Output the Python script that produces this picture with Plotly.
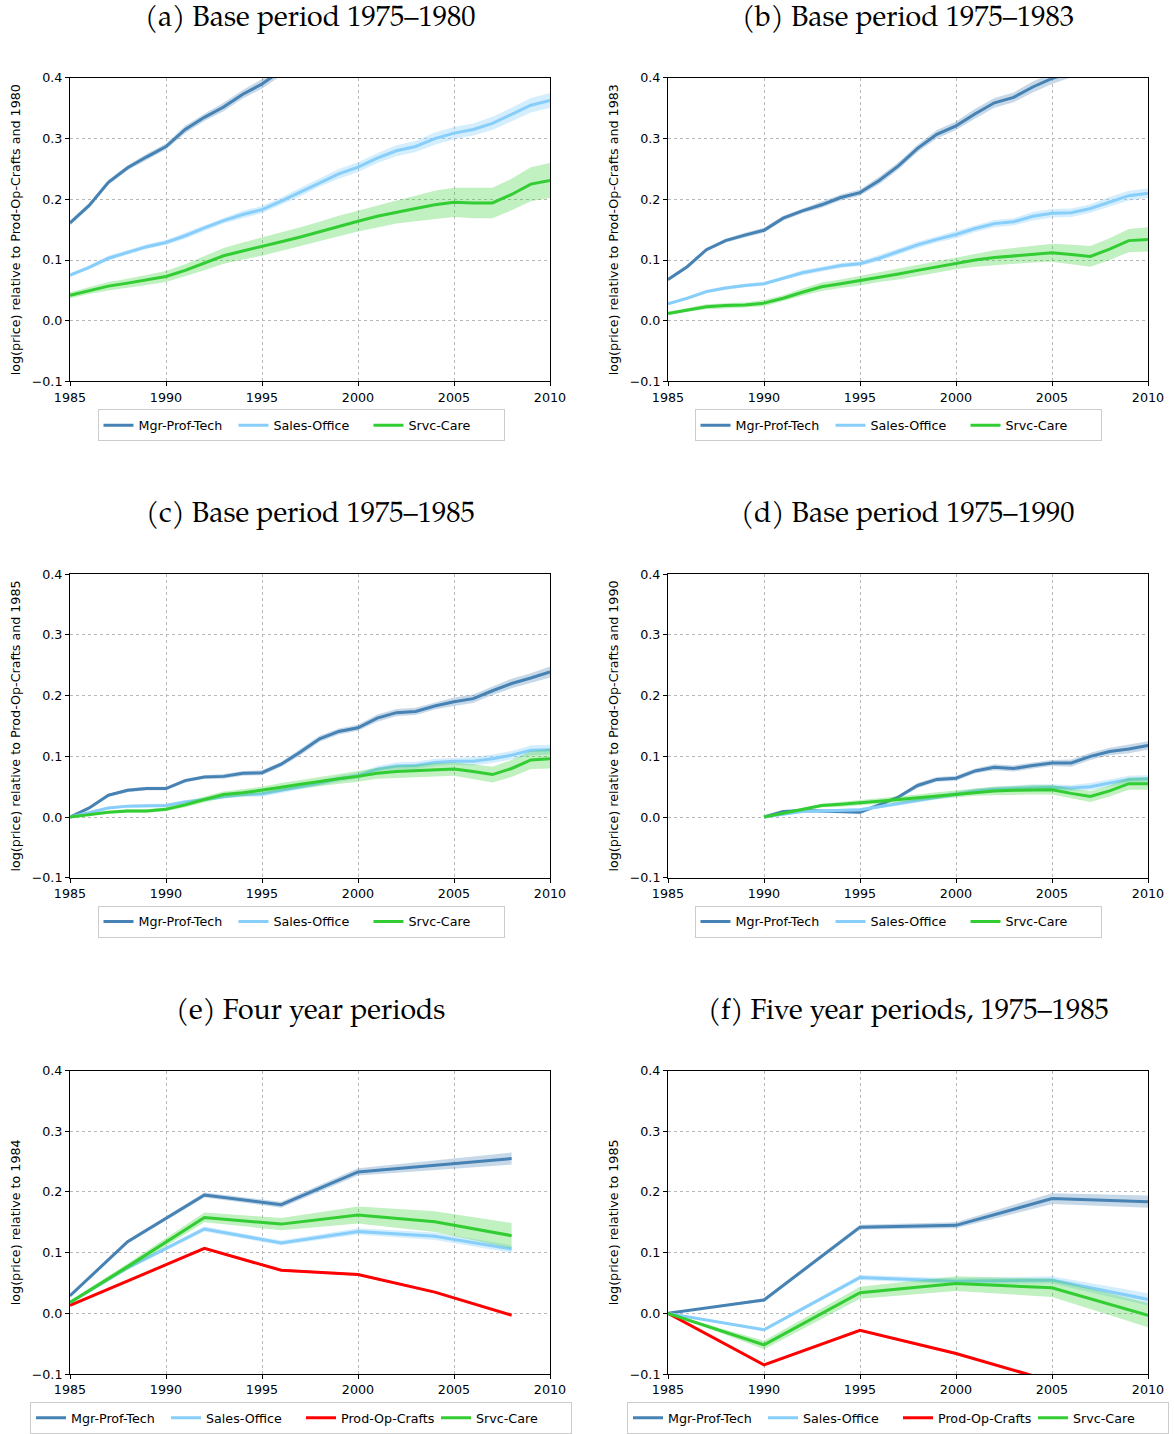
import plotly.graph_objects as go

# ---------------- data ----------------
years_annual = list(range(1985, 2011))
years_d = list(range(1990, 2011))
years_e = [1985, 1988, 1992, 1996, 2000, 2004, 2008]
years_f = [1985, 1990, 1995, 2000, 2005, 2010]

# (a) base period 1975-1980
a_mgr_years = list(range(1985, 1997))
a_mgr = [0.161, 0.190, 0.228, 0.252, 0.270, 0.287, 0.315, 0.335, 0.352, 0.373, 0.390, 0.412]
a_mgr_se = [0.004, 0.004, 0.004, 0.004, 0.005, 0.005, 0.006, 0.006, 0.007, 0.007, 0.008, 0.008]
a_sales = [0.075, 0.088, 0.103, 0.113, 0.122, 0.129, 0.140, 0.153, 0.165, 0.175, 0.183, 0.197, 0.212,
           0.228, 0.242, 0.253, 0.268, 0.280, 0.287, 0.300, 0.309, 0.315, 0.325, 0.340, 0.355, 0.363]
a_sales_se = [0.003, 0.003, 0.004, 0.004, 0.004, 0.004, 0.005, 0.005, 0.005, 0.006, 0.006, 0.006, 0.007,
              0.007, 0.008, 0.008, 0.008, 0.009, 0.009, 0.010, 0.010, 0.010, 0.011, 0.011, 0.012, 0.012]
a_srvc = [0.042, 0.050, 0.057, 0.062, 0.067, 0.073, 0.083, 0.095, 0.107, 0.115, 0.122, 0.130, 0.138,
          0.147, 0.156, 0.164, 0.172, 0.179, 0.185, 0.191, 0.195, 0.194, 0.194, 0.208, 0.225, 0.231]
a_srvc_se = [0.005, 0.006, 0.007, 0.007, 0.008, 0.009, 0.010, 0.012, 0.013, 0.014, 0.015, 0.015, 0.016,
             0.016, 0.017, 0.017, 0.018, 0.019, 0.021, 0.023, 0.024, 0.025, 0.025, 0.026, 0.028, 0.029]

# (b) base period 1975-1983
b_mgr_years = list(range(1985, 2008))
b_mgr = [0.068, 0.089, 0.117, 0.132, 0.141, 0.149, 0.169, 0.181, 0.191, 0.203, 0.211, 0.231, 0.255,
         0.284, 0.307, 0.321, 0.341, 0.359, 0.368, 0.385, 0.399, 0.410, 0.420]
b_mgr_se = [0.003, 0.003, 0.003, 0.003, 0.004, 0.004, 0.004, 0.004, 0.005, 0.005, 0.005, 0.006, 0.006,
            0.006, 0.007, 0.007, 0.008, 0.008, 0.008, 0.009, 0.009, 0.009, 0.010]
b_sales = [0.028, 0.037, 0.048, 0.054, 0.058, 0.061, 0.070, 0.079, 0.085, 0.091, 0.094, 0.103, 0.114,
           0.125, 0.134, 0.142, 0.152, 0.160, 0.163, 0.172, 0.177, 0.178, 0.185, 0.196, 0.206, 0.210]
b_sales_se = [0.002, 0.002, 0.003, 0.003, 0.003, 0.003, 0.003, 0.004, 0.004, 0.004, 0.004, 0.005, 0.005,
              0.005, 0.005, 0.006, 0.006, 0.006, 0.006, 0.007, 0.007, 0.007, 0.007, 0.008, 0.008, 0.008]
b_srvc = [0.012, 0.018, 0.023, 0.025, 0.026, 0.029, 0.037, 0.047, 0.056, 0.061, 0.066, 0.072, 0.077,
          0.083, 0.089, 0.095, 0.100, 0.104, 0.107, 0.110, 0.112, 0.109, 0.106, 0.118, 0.132, 0.134]
b_srvc_se = [0.003, 0.003, 0.004, 0.004, 0.004, 0.005, 0.005, 0.006, 0.007, 0.007, 0.008, 0.008, 0.009,
             0.009, 0.010, 0.010, 0.011, 0.012, 0.013, 0.014, 0.015, 0.016, 0.017, 0.018, 0.019, 0.020]

# (c) base period 1975-1985
c_mgr = [0.000, 0.015, 0.036, 0.044, 0.047, 0.047, 0.060, 0.066, 0.067, 0.072, 0.073, 0.087, 0.107,
         0.129, 0.141, 0.147, 0.163, 0.172, 0.174, 0.183, 0.190, 0.195, 0.208, 0.220, 0.229, 0.239]
c_mgr_se = [0.000, 0.002, 0.002, 0.003, 0.003, 0.003, 0.003, 0.003, 0.004, 0.004, 0.004, 0.004, 0.005,
            0.005, 0.005, 0.005, 0.006, 0.006, 0.006, 0.006, 0.007, 0.007, 0.007, 0.008, 0.008, 0.009]
c_sales = [0.000, 0.007, 0.015, 0.018, 0.019, 0.019, 0.025, 0.029, 0.034, 0.037, 0.038, 0.044, 0.049,
           0.056, 0.063, 0.068, 0.079, 0.084, 0.085, 0.090, 0.092, 0.092, 0.096, 0.102, 0.110, 0.111]
c_sales_se = [0.000, 0.002, 0.002, 0.002, 0.003, 0.003, 0.003, 0.003, 0.003, 0.004, 0.004, 0.004, 0.004,
              0.005, 0.005, 0.005, 0.005, 0.006, 0.006, 0.006, 0.006, 0.007, 0.007, 0.007, 0.008, 0.008]
c_srvc = [0.000, 0.004, 0.008, 0.010, 0.010, 0.013, 0.020, 0.029, 0.037, 0.040, 0.044, 0.049, 0.054,
          0.059, 0.063, 0.067, 0.072, 0.075, 0.076, 0.078, 0.079, 0.075, 0.070, 0.080, 0.094, 0.096]
c_srvc_se = [0.000, 0.002, 0.002, 0.003, 0.003, 0.003, 0.004, 0.005, 0.005, 0.006, 0.006, 0.007, 0.007,
             0.008, 0.008, 0.009, 0.009, 0.010, 0.010, 0.011, 0.011, 0.012, 0.013, 0.014, 0.015, 0.016]

# (d) base period 1975-1990
d_mgr = [0.000, 0.009, 0.011, 0.010, 0.010, 0.008, 0.020, 0.033, 0.052, 0.062, 0.064, 0.076, 0.082,
         0.080, 0.085, 0.089, 0.089, 0.100, 0.108, 0.112, 0.118]
d_mgr_se = [0.000, 0.002, 0.002, 0.002, 0.003, 0.003, 0.003, 0.003, 0.004, 0.004, 0.004, 0.004, 0.005,
            0.005, 0.005, 0.005, 0.006, 0.006, 0.006, 0.007, 0.007]
d_sales = [0.000, 0.005, 0.009, 0.010, 0.011, 0.012, 0.017, 0.022, 0.028, 0.033, 0.038, 0.043, 0.046,
           0.047, 0.049, 0.049, 0.048, 0.050, 0.056, 0.062, 0.063]
d_sales_se = [0.000, 0.002, 0.002, 0.002, 0.002, 0.003, 0.003, 0.003, 0.003, 0.004, 0.004, 0.004, 0.004,
              0.005, 0.005, 0.005, 0.005, 0.006, 0.006, 0.006, 0.006]
d_srvc = [0.000, 0.006, 0.012, 0.019, 0.021, 0.023, 0.026, 0.029, 0.032, 0.035, 0.038, 0.041, 0.043,
          0.044, 0.045, 0.045, 0.039, 0.034, 0.043, 0.055, 0.055]
d_srvc_se = [0.000, 0.002, 0.003, 0.003, 0.004, 0.004, 0.004, 0.005, 0.005, 0.006, 0.006, 0.006, 0.007,
             0.007, 0.008, 0.008, 0.008, 0.009, 0.009, 0.010, 0.010]

# (e) four year periods
e_mgr = [0.029, 0.118, 0.195, 0.179, 0.233, 0.244, 0.255]
e_mgr_se = [0.003, 0.003, 0.004, 0.005, 0.006, 0.008, 0.010]
e_sales = [0.018, 0.075, 0.139, 0.116, 0.135, 0.127, 0.106]
e_sales_se = [0.002, 0.003, 0.004, 0.004, 0.005, 0.006, 0.006]
e_prod = [0.013, 0.053, 0.107, 0.071, 0.064, 0.035, -0.003]
e_prod_se = [0.001, 0.001, 0.002, 0.002, 0.002, 0.002, 0.003]
e_srvc = [0.018, 0.077, 0.158, 0.147, 0.162, 0.151, 0.128]
e_srvc_se = [0.003, 0.005, 0.008, 0.010, 0.014, 0.017, 0.021]

# (f) five year periods, 1975-1985
f_mgr = [0.000, 0.022, 0.142, 0.145, 0.189, 0.184]
f_mgr_se = [0.000, 0.003, 0.004, 0.005, 0.009, 0.010]
f_sales = [0.000, -0.027, 0.059, 0.053, 0.055, 0.023]
f_sales_se = [0.000, 0.003, 0.004, 0.005, 0.006, 0.010]
f_prod = [0.000, -0.085, -0.028, -0.066, -0.112, -0.150]
f_prod_se = [0.000, 0.002, 0.002, 0.002, 0.003, 0.003]
f_srvc = [0.000, -0.052, 0.034, 0.049, 0.042, -0.003]
f_srvc_se = [0.000, 0.007, 0.010, 0.012, 0.015, 0.020]

titles = ["(a) Base period 1975–1980", "(b) Base period 1975–1983",
          "(c) Base period 1975–1985", "(d) Base period 1975–1990",
          "(e) Four year periods", "(f) Five year periods, 1975–1985"]
ytitles = ["log(price) relative to Prod-Op-Crafts and 1980",
           "log(price) relative to Prod-Op-Crafts and 1983",
           "log(price) relative to Prod-Op-Crafts and 1985",
           "log(price) relative to Prod-Op-Crafts and 1990",
           "log(price) relative to 1984",
           "log(price) relative to 1985"]

COLORS = {
    "Mgr-Prof-Tech": ("#4682b4", "rgba(70,130,180,0.30)"),
    "Sales-Office": ("#87cefa", "rgba(135,206,250,0.35)"),
    "Prod-Op-Crafts": ("#ff0000", "rgba(255,0,0,0.30)"),
    "Srvc-Care": ("#32cd32", "rgba(50,205,50,0.30)"),
}

panels = [
    [("Mgr-Prof-Tech", a_mgr_years, a_mgr, a_mgr_se),
     ("Sales-Office", years_annual, a_sales, a_sales_se),
     ("Srvc-Care", years_annual, a_srvc, a_srvc_se)],
    [("Mgr-Prof-Tech", b_mgr_years, b_mgr, b_mgr_se),
     ("Sales-Office", years_annual, b_sales, b_sales_se),
     ("Srvc-Care", years_annual, b_srvc, b_srvc_se)],
    [("Mgr-Prof-Tech", years_annual, c_mgr, c_mgr_se),
     ("Sales-Office", years_annual, c_sales, c_sales_se),
     ("Srvc-Care", years_annual, c_srvc, c_srvc_se)],
    [("Mgr-Prof-Tech", years_d, d_mgr, d_mgr_se),
     ("Sales-Office", years_d, d_sales, d_sales_se),
     ("Srvc-Care", years_d, d_srvc, d_srvc_se)],
    [("Mgr-Prof-Tech", years_e, e_mgr, e_mgr_se),
     ("Sales-Office", years_e, e_sales, e_sales_se),
     ("Prod-Op-Crafts", years_e, e_prod, e_prod_se),
     ("Srvc-Care", years_e, e_srvc, e_srvc_se)],
    [("Mgr-Prof-Tech", years_f, f_mgr, f_mgr_se),
     ("Sales-Office", years_f, f_sales, f_sales_se),
     ("Prod-Op-Crafts", years_f, f_prod, f_prod_se),
     ("Srvc-Care", years_f, f_srvc, f_srvc_se)],
]

# ---------------- layout geometry (pixels) ----------------
W, H = 1174, 1434
col_x = [(70, 550), (668, 1148)]
row_y = [(78, 382), (575, 879), (1072, 1376)]
legend_centers = [(301, 426), (898, 426), (301, 923), (898, 923), (301, 1420), (898, 1420)]
FONT = "DejaVu Sans"
FS = 12.7

fig = go.Figure()
layout = {}
annotations = []

for i, series in enumerate(panels):
    r, c = divmod(i, 2)
    x0, x1 = col_x[c]
    y0, y1 = row_y[r]
    k = "" if i == 0 else str(i + 1)
    xa, ya = "x" + k, "y" + k
    leg = "legend" + k

    for name, xs, ys, se in series:
        line_c, fill_c = COLORS[name]
        lo = [v - s for v, s in zip(ys, se)]
        hi = [v + s for v, s in zip(ys, se)]
        fig.add_trace(go.Scatter(
            x=list(xs) + list(xs)[::-1], y=hi + lo[::-1], fill="toself",
            fillcolor=fill_c, line=dict(width=0), mode="lines",
            hoverinfo="skip", showlegend=False, xaxis=xa, yaxis=ya))
        fig.add_trace(go.Scatter(
            x=xs, y=ys, mode="lines", name=name,
            line=dict(color=line_c, width=3), xaxis=xa, yaxis=ya, legend=leg))

    axis_common = dict(showline=True, linecolor="black", linewidth=1, mirror=True,
                       ticks="outside", ticklen=4, tickcolor="black", automargin=False,
                       showgrid=True, gridcolor="#b8b8b8", griddash="dot", gridwidth=0.8,
                       zeroline=False, tickfont=dict(family=FONT, size=FS, color="black"))
    layout["xaxis" + k] = dict(axis_common, domain=[x0 / W, x1 / W], range=[1985, 2010],
                               tickvals=[1985, 1990, 1995, 2000, 2005, 2010], anchor=ya)
    layout["yaxis" + k] = dict(axis_common, domain=[1 - y1 / H, 1 - y0 / H], range=[-0.1, 0.4],
                               tickvals=[-0.1, 0.0, 0.1, 0.2, 0.3, 0.4], tickformat=".1f", anchor=xa,
                               title=dict(text=ytitles[i], standoff=8,
                                          font=dict(family=FONT, size=FS, color="black")))
    lx, ly = legend_centers[i]
    layout[leg] = dict(orientation="h", x=lx / W, y=1 - ly / H, xanchor="center", yanchor="middle",
                       bordercolor="#cccccc", borderwidth=1, bgcolor="white",
                       font=dict(family=FONT, size=FS, color="black"),
                       itemwidth=30, entrywidth=90, entrywidthmode="pixels")
    annotations.append(dict(text=titles[i], xref="paper", yref="paper",
                            x=(x0 + x1) / 2 / W, y=1 - (y0 - 59) / H,
                            xanchor="center", yanchor="middle", showarrow=False,
                            font=dict(family="TeX Gyre Pagella, Palatino, Liberation Serif, serif",
                                      size=28.5, color="black")))

fig.update_layout(width=W, height=H, margin=dict(l=0, r=0, t=0, b=0),
                  paper_bgcolor="white", plot_bgcolor="white",
                  annotations=annotations, **layout)

fig.write_html("out.html")
